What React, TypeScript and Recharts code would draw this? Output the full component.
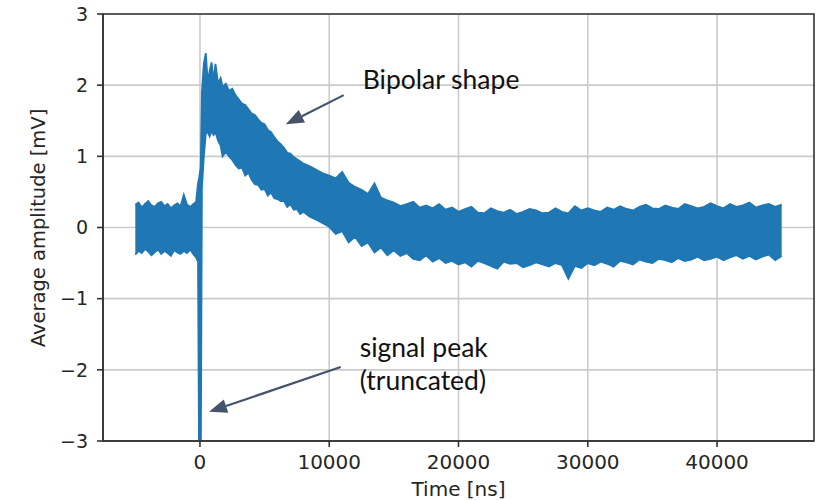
import { Area, CartesianGrid, ComposedChart, ReferenceArea, ReferenceLine, XAxis, YAxis } from "recharts";

// time samples in ns, with the band's upper and lower edges in mV
const times = [
  -5000, -4750, -4500, -4250, -4000, -3750, -3500, -3250, -3000, -2750, -2500, -2250, -2000, -1750, -1500, -1250, -1000, -750, -500, -300,
  -150, -60, 60, 150, 300, 450, 600, 750, 900, 1050, 1200, 1400, 1600, 1750,
  2000, 2250, 2500, 2750, 3000, 3250, 3500, 3750, 4000, 4250, 4500, 4750, 5000, 5250, 5500, 5750, 6000, 6250, 6500, 6750, 7000, 7250, 7500, 7750, 8000,
  8500, 9000, 9500, 10000, 10500, 11000, 11500, 12000, 12500, 13000, 13500, 14000, 14500, 15000, 15500, 16000, 16500, 17000, 17500, 18000, 18500, 19000, 19500,
  20000, 20500, 21000, 21500, 22000, 22500, 23000, 23500, 24000, 24500, 25000, 25500, 26000, 26500, 27000, 27500, 28000, 28500, 29000, 29500,
  30000, 30500, 31000, 31500, 32000, 32500, 33000, 33500, 34000, 34500, 35000, 35500, 36000, 36500, 37000, 37500, 38000, 38500, 39000, 39500,
  40000, 40500, 41000, 41500, 42000, 42500, 43000, 43500, 44000, 44500, 45000,
];
const upper = [
  0.32, 0.35, 0.28, 0.33, 0.37, 0.31, 0.29, 0.34, 0.36, 0.30, 0.33, 0.27, 0.31, 0.34, 0.30, 0.46, 0.32, 0.29, 0.33, 0.36,
  0.62, 0.70, 0.85, 1.90, 2.30, 2.45, 2.05, 2.20, 2.32, 2.05, 2.30, 2.02, 2.10, 1.98,
  2.02, 1.92, 1.95, 1.86, 1.80, 1.74, 1.72, 1.66, 1.60, 1.58, 1.52, 1.47, 1.45, 1.37, 1.34, 1.27, 1.21, 1.17, 1.12, 1.05, 1.04, 0.99, 0.96, 0.93, 0.90,
  0.86, 0.81, 0.76, 0.73, 0.69, 0.78, 0.63, 0.57, 0.53, 0.47, 0.62, 0.42, 0.38, 0.35, 0.30, 0.33, 0.36, 0.28, 0.31, 0.27, 0.33, 0.25, 0.28,
  0.22, 0.26, 0.29, 0.21, 0.20, 0.27, 0.23, 0.21, 0.25, 0.19, 0.22, 0.26, 0.24, 0.20, 0.21, 0.27, 0.22, 0.20, 0.30, 0.24,
  0.27, 0.24, 0.22, 0.28, 0.25, 0.30, 0.26, 0.24, 0.29, 0.32, 0.27, 0.26, 0.31, 0.28, 0.26, 0.33, 0.30, 0.27, 0.29, 0.34,
  0.30, 0.27, 0.33, 0.29, 0.31, 0.35, 0.28, 0.31, 0.33, 0.29, 0.32,
];
const lower = [
  -0.38, -0.33, -0.36, -0.30, -0.34, -0.39, -0.35, -0.31, -0.37, -0.33, -0.36, -0.40, -0.32, -0.35, -0.37, -0.33, -0.36, -0.31, -0.38, -0.42,
  -0.48, -3.6, -3.6, 0.55, 1.00, 1.32, 1.34, 1.28, 1.36, 1.30, 1.34, 1.22, 1.15, 1.00,
  1.06, 1.00, 0.95, 0.88, 0.83, 0.84, 0.73, 0.77, 0.67, 0.61, 0.60, 0.53, 0.54, 0.45, 0.49, 0.41, 0.40, 0.37, 0.37, 0.29, 0.33, 0.25, 0.26, 0.19, 0.22,
  0.15, 0.11, 0.06, 0.01, -0.09, -0.05, -0.21, -0.13, -0.26, -0.21, -0.35, -0.28, -0.39, -0.32, -0.40, -0.36, -0.44, -0.46, -0.39, -0.48, -0.43, -0.50, -0.47,
  -0.52, -0.49, -0.55, -0.47, -0.50, -0.54, -0.58, -0.48, -0.51, -0.50, -0.56, -0.53, -0.49, -0.52, -0.55, -0.50, -0.53, -0.72, -0.54, -0.57,
  -0.50, -0.53, -0.48, -0.51, -0.55, -0.47, -0.49, -0.52, -0.45, -0.48, -0.50, -0.44, -0.46, -0.49, -0.43, -0.47, -0.45, -0.41, -0.46, -0.44,
  -0.41, -0.46, -0.42, -0.39, -0.44, -0.40, -0.45, -0.41, -0.38, -0.46, -0.40,
];

const xTicks = [0, 10000, 20000, 30000, 40000];
const yTicks = [-3, -2, -1, 0, 1, 2, 3];

const data = times.map((t, i) => ({ t, band: [lower[i], upper[i]] }));

const BLUE = "#1f77b4";
const INK = "#262626";
const NOTE = "#44546a";

const fmt = (v: number) => (v < 0 ? `\u2212${-v}` : `${v}`);

function Arrow(props: any) {
  const { x1, y1, x2, y2, lines } = props;
  const dx = x2 - x1;
  const dy = y2 - y1;
  const len = Math.sqrt(dx * dx + dy * dy);
  const ux = dx / len;
  const uy = dy / len;
  const head = 18;
  const half = 7;
  const bx = x2 - ux * head;
  const by = y2 - uy * head;
  return (
    <g>
      <line x1={x1} y1={y1} x2={bx} y2={by} stroke={NOTE} strokeWidth={2.2} />
      <polygon
        points={`${x2},${y2} ${bx - uy * half},${by + ux * half} ${bx + uy * half},${by - ux * half}`}
        fill={NOTE}
      />
      {lines.map((s: string, i: number) => (
        <text key={i} x={x1 + 19} y={y1 - props.up + i * 33} fontFamily="Lato" fontSize={26.5} fill="#111">
          {s}
        </text>
      ))}
    </g>
  );
}

export default function App() {
  return (
    <div style={{ position: "absolute", left: 0, top: 0, background: "#fff" }}>
      <ComposedChart
        width={821}
        height={500}
        data={data}
        margin={{ top: 14, right: 7, bottom: 0, left: 0 }}
        style={{ fontFamily: "DejaVu Sans" }}
      >
        <CartesianGrid stroke="#cbcbcb" strokeWidth={1.6} horizontalValues={yTicks} verticalValues={xTicks} />
        <XAxis
          dataKey="t"
          type="number"
          domain={[-7500, 47500]}
          ticks={xTicks}
          allowDataOverflow
          height={59}
          tickSize={6}
          tickMargin={8}
          stroke="#333"
          strokeWidth={1.6}
          tick={{ fontSize: 20, fill: INK }}
          label={{ value: "Time [ns]", position: "insideBottom", offset: 4, fontSize: 20, fill: INK }}
        />
        <YAxis
          type="number"
          domain={[-3, 3]}
          ticks={yTicks}
          allowDataOverflow
          width={103}
          tickSize={6}
          tickMargin={9}
          stroke="#333"
          strokeWidth={1.6}
          tickFormatter={fmt}
          tick={{ fontSize: 19, fill: INK }}
          label={() => (
            <text
              x={45}
              y={228}
              transform="rotate(-90, 45, 228)"
              textAnchor="middle"
              fontSize={19.5}
              fill={INK}
            >
              Average amplitude [mV]
            </text>
          )}
        />
        <Area
          dataKey="band"
          type="linear"
          stroke={BLUE}
          strokeWidth={1.8}
          fill={BLUE}
          fillOpacity={1}
          isAnimationActive={false}
          dot={false}
          activeDot={false}
        />
        <ReferenceLine
          segment={[{ x: 11120, y: 1.86 }, { x: 6640, y: 1.45 }]}
          ifOverflow="visible"
          shape={(p: any) => <Arrow {...p} lines={["Bipolar shape"]} up={6} />}
        />
        <ReferenceLine
          segment={[{ x: 10890, y: -1.96 }, { x: 700, y: -2.59 }]}
          ifOverflow="visible"
          shape={(p: any) => <Arrow {...p} lines={["signal peak", "(truncated)"]} up={10} />}
        />
        <ReferenceArea
          x1={-7500}
          x2={47500}
          y1={-3}
          y2={3}
          fill="none"
          stroke="#333"
          strokeWidth={1.6}
          ifOverflow="visible"
        />
      </ComposedChart>
    </div>
  );
}
